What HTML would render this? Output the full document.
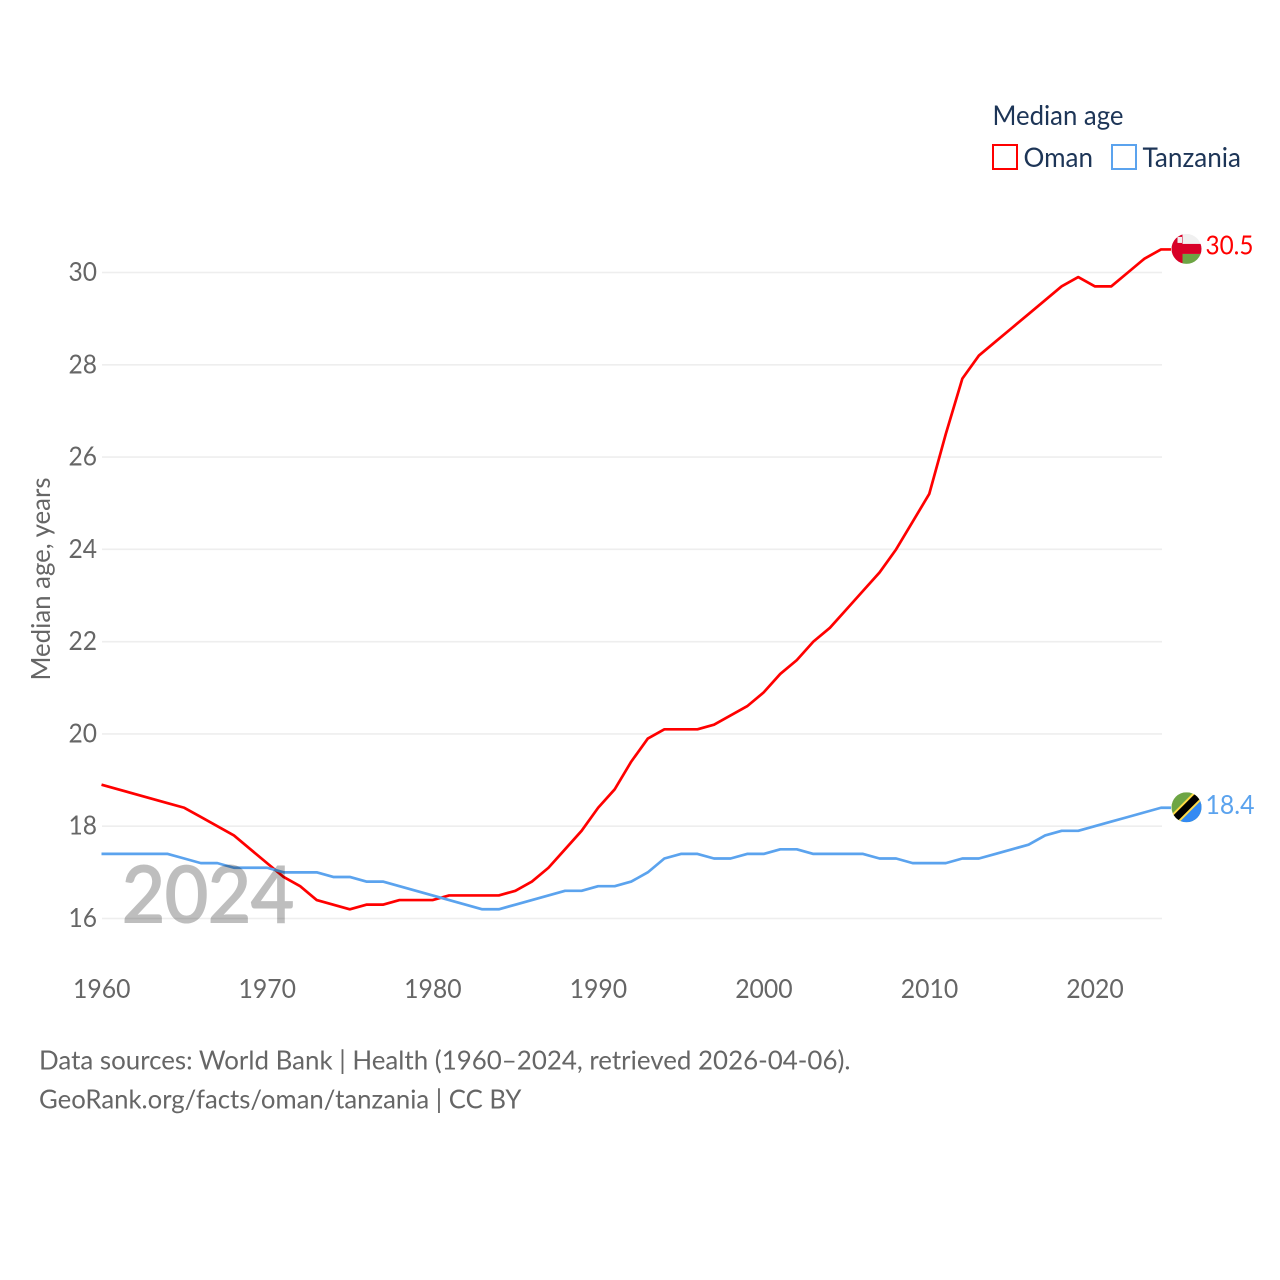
<!DOCTYPE html>
<html lang="en">
<head>
<meta charset="utf-8">
<title>Median age: Oman and Tanzania</title>
<style>
html,body{margin:0;padding:0;background:#fff;}
svg{display:block;}
text{font-family:"Lato","Carlito","Liberation Sans",sans-serif;}
</style>
</head>
<body>
<svg id="chart" xmlns="http://www.w3.org/2000/svg" width="1280" height="1280" viewBox="0 0 1280 1280">
  <g id="grid"></g>
  <g id="yticks"></g>
  <g id="xticks"></g>
  <text transform="translate(50,680.5) rotate(-90)" font-size="26" fill="#666" textLength="203" lengthAdjust="spacingAndGlyphs">Median age, years</text>
  <g id="series"></g>
  <text x="122" y="922" font-size="78" fill="#000" opacity="0.25" stroke="#000" stroke-width="2" textLength="172" lengthAdjust="spacingAndGlyphs">2024</text>

  <defs>
    <clipPath id="oman-clip"><circle id="oman-clip-circle" r="15"></circle></clipPath>
    <clipPath id="tz-clip"><circle id="tz-clip-circle" r="15"></circle></clipPath>
  </defs>
  <g id="oman-flag">
    <g clip-path="url(#oman-clip)">
      <rect x="-15" y="-15" width="30" height="30" fill="#f0f0f0"></rect>
      <rect x="-4" y="5" width="19" height="10" fill="#6da544"></rect>
      <rect x="-4" y="-5" width="19" height="10" fill="#d80027"></rect>
      <rect x="-15" y="-15" width="11" height="30" fill="#d80027"></rect>
      <rect x="-9" y="-12" width="4.5" height="6" fill="#f0f0f0"></rect>
    </g>
  </g>
  <g id="tz-flag">
    <g clip-path="url(#tz-clip)">
      <rect x="-15" y="-15" width="30" height="30" fill="#6da544"></rect>
      <polygon points="15,-15 15,15 -15,15" fill="#338af3"></polygon>
      <line x1="-16" y1="16" x2="16" y2="-16" stroke="#ffda44" stroke-width="11"></line>
      <line x1="-16" y1="16" x2="16" y2="-16" stroke="#000" stroke-width="7"></line>
    </g>
  </g>
  <text id="oman-value" x="1205.5" font-size="26" fill="#ff0000" textLength="48" lengthAdjust="spacingAndGlyphs">30.5</text>
  <text id="tz-value" x="1205.5" font-size="26" fill="#5ba3ee" textLength="49" lengthAdjust="spacingAndGlyphs">18.4</text>

  <g>
    <text x="992.5" y="125" font-size="27" fill="#1d3557" textLength="131" lengthAdjust="spacingAndGlyphs">Median age</text>
    <g>
      <rect x="993" y="145" width="24" height="24" fill="none" stroke="#ff0000" stroke-width="2"></rect>
      <text x="1023.5" y="167" font-size="27" fill="#1d3557" textLength="69.5" lengthAdjust="spacingAndGlyphs">Oman</text>
    </g>
    <g>
      <rect x="1112" y="145" width="24" height="24" fill="none" stroke="#5ba3ee" stroke-width="2"></rect>
      <text x="1142.5" y="167" font-size="27" fill="#1d3557" textLength="98.5" lengthAdjust="spacingAndGlyphs">Tanzania</text>
    </g>
  </g>

  <text x="39" y="1069.5" font-size="26" fill="#666" textLength="811.5" lengthAdjust="spacingAndGlyphs">Data sources: World Bank | Health (1960–2024, retrieved 2026-04-06).</text>
  <text x="39" y="1108.5" font-size="26" fill="#666" textLength="482.5" lengthAdjust="spacingAndGlyphs">GeoRank.org/facts/oman/tanzania | CC BY</text>
</svg>
<script>
const startYear = 1960;
const omanValues = [18.9,18.8,18.7,18.6,18.5,18.4,18.2,18.0,17.8,17.5,17.2,16.9,16.7,16.4,16.3,16.2,16.3,16.3,16.4,16.4,16.4,16.5,16.5,16.5,16.5,16.6,16.8,17.1,17.5,17.9,18.4,18.8,19.4,19.9,20.1,20.1,20.1,20.2,20.4,20.6,20.9,21.3,21.6,22.0,22.3,22.7,23.1,23.5,24.0,24.6,25.2,26.5,27.7,28.2,28.5,28.8,29.1,29.4,29.7,29.9,29.7,29.7,30.0,30.3,30.5];
const tanzaniaValues = [17.4,17.4,17.4,17.4,17.4,17.3,17.2,17.2,17.1,17.1,17.1,17.0,17.0,17.0,16.9,16.9,16.8,16.8,16.7,16.6,16.5,16.4,16.3,16.2,16.2,16.3,16.4,16.5,16.6,16.6,16.7,16.7,16.8,17.0,17.3,17.4,17.4,17.3,17.3,17.4,17.4,17.5,17.5,17.4,17.4,17.4,17.4,17.3,17.3,17.2,17.2,17.2,17.3,17.3,17.4,17.5,17.6,17.8,17.9,17.9,18.0,18.1,18.2,18.3,18.4];
const yTickValues = [16,18,20,22,24,26,28,30];
const xTickYears = [1960,1970,1980,1990,2000,2010,2020];

const NS = 'http://www.w3.org/2000/svg';
function xScale(year){ return 101.5 + (year - 1960) * (1161 - 101.5) / 64; }
function yScale(v){ return 918.5 - (v - 16) * (918.5 - 272.5) / 14; }

const grid = document.getElementById('grid');
const yticks = document.getElementById('yticks');
const xticks = document.getElementById('xticks');
const series = document.getElementById('series');

yTickValues.forEach(function(v){
  const line = document.createElementNS(NS, 'line');
  
  
  line.setAttribute('x1', 102);
  line.setAttribute('x2', 1162);
  line.setAttribute('y1', yScale(v));
  line.setAttribute('y2', yScale(v));
  line.setAttribute('stroke', '#eeeeee');
  line.setAttribute('stroke-width', 1.6);
  grid.appendChild(line);
  const t = document.createElementNS(NS, 'text');
  
  
  t.setAttribute('x', 68.5);
  t.setAttribute('y', yScale(v) + 8.5);
  t.setAttribute('font-size', 26);
  t.setAttribute('fill', '#666');
  t.setAttribute('textLength', 28.5);
  t.setAttribute('lengthAdjust', 'spacingAndGlyphs');
  t.textContent = String(v);
  yticks.appendChild(t);
});

xTickYears.forEach(function(y){
  const t = document.createElementNS(NS, 'text');
  
  
  t.setAttribute('x', xScale(y) - 28.5);
  t.setAttribute('y', 998);
  t.setAttribute('font-size', 26);
  t.setAttribute('fill', '#666');
  t.setAttribute('textLength', 57.5);
  t.setAttribute('lengthAdjust', 'spacingAndGlyphs');
  t.textContent = String(y);
  xticks.appendChild(t);
});

function pointsFor(values){
  const pts = values.map(function(v, i){
    return xScale(startYear + i).toFixed(2) + ',' + yScale(v).toFixed(2);
  });
  pts.push((xScale(startYear + values.length - 1) + 10).toFixed(2) + ',' + yScale(values[values.length - 1]).toFixed(2));
  return pts.join(' ');
}

const omanLine = document.createElementNS(NS, 'polyline');


omanLine.setAttribute('points', pointsFor(omanValues));
omanLine.setAttribute('fill', 'none');
omanLine.setAttribute('stroke', '#ff0000');
omanLine.setAttribute('stroke-width', 2.7);
omanLine.setAttribute('stroke-linejoin', 'round');
series.appendChild(omanLine);

const tanzaniaLine = document.createElementNS(NS, 'polyline');


tanzaniaLine.setAttribute('points', pointsFor(tanzaniaValues));
tanzaniaLine.setAttribute('fill', 'none');
tanzaniaLine.setAttribute('stroke', '#5ba3ee');
tanzaniaLine.setAttribute('stroke-width', 2.7);
tanzaniaLine.setAttribute('stroke-linejoin', 'round');
series.appendChild(tanzaniaLine);

const flagX = xScale(2024) + 25.5;
const omanLast = omanValues[omanValues.length - 1];
const tanzaniaLast = tanzaniaValues[tanzaniaValues.length - 1];
document.getElementById('oman-flag').setAttribute('transform', 'translate(' + flagX + ',' + (yScale(omanLast) - 0.5) + ')');
document.getElementById('tz-flag').setAttribute('transform', 'translate(' + flagX + ',' + (yScale(tanzaniaLast) - 0.5) + ')');
document.getElementById('oman-value').setAttribute('y', yScale(omanLast) + 5);
document.getElementById('oman-value').textContent = omanLast.toFixed(1);
document.getElementById('tz-value').setAttribute('y', yScale(tanzaniaLast) + 6);
document.getElementById('tz-value').textContent = tanzaniaLast.toFixed(1);
</script>
</body>
</html>
